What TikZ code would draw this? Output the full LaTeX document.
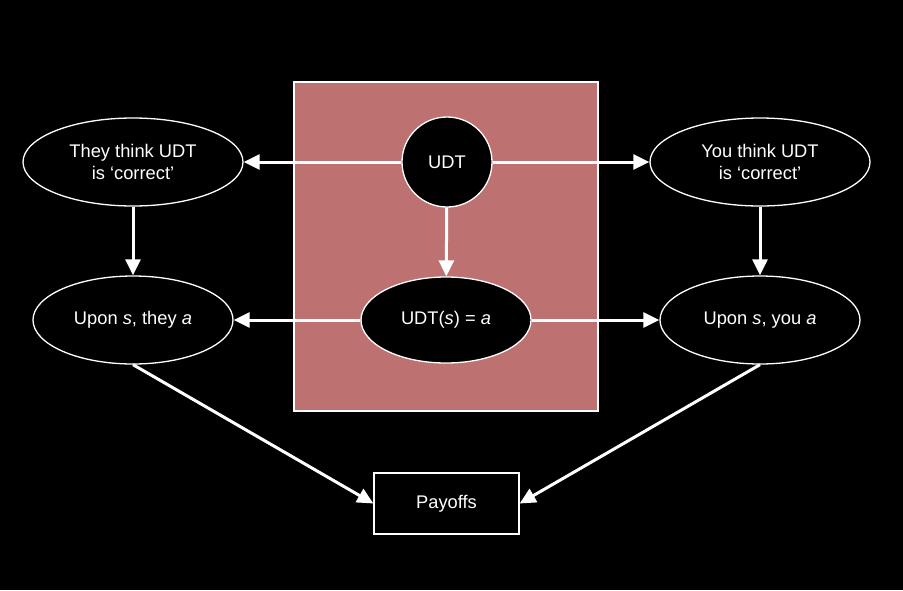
\documentclass[tikz,border=0pt]{standalone}
\usepackage{fontspec}
\setmainfont{Liberation Sans}
\usetikzlibrary{arrows.meta,shapes.geometric}
\definecolor{pinkbg}{RGB}{190,113,113}
\begin{document}
\begin{tikzpicture}[x=1pt,y=-1pt,
  every node/.style={font=\fontsize{18.3}{22}\selectfont, text=white},
  oval/.style={ellipse, draw=white, line width=1.3pt, fill=black, inner sep=0pt, align=center},
  conn/.style={draw=white, line width=3pt, -{Triangle[length=16pt,width=15pt]}}]
\fill[black] (0,0) rectangle (903,590);
\useasboundingbox (0,0) rectangle (903,590);
\node[draw=white, line width=1.3pt, fill=pinkbg, minimum width=304pt, minimum height=329pt, inner sep=0pt] (box) at (446,246.5) {};
\node[circle, draw=white, line width=1.3pt, fill=black, minimum size=90pt, inner sep=0pt] (udt) at (447,162) {UDT};
\node[oval, minimum width=170pt, minimum height=86pt] (udts) at (446,320) {UDT(\textit{s}) = \textit{a}};
\node[oval, minimum width=220pt, minimum height=88pt] (tt) at (133,162) {They think UDT\\is ‘correct’};
\node[oval, minimum width=200pt, minimum height=88pt] (tu) at (133,320) {Upon \textit{s}, they \textit{a}};
\node[oval, minimum width=220pt, minimum height=88pt] (yt) at (760,162) {You think UDT\\is ‘correct’};
\node[oval, minimum width=200pt, minimum height=88pt] (yu) at (760,320) {Upon \textit{s}, you \textit{a}};
\node[draw=white, line width=1.3pt, fill=black, minimum width=145pt, minimum height=61pt, inner sep=0pt] (pay) at (446.5,503.5) {Payoffs};
\draw[conn] (udt) -- (tt);
\draw[conn] (udt) -- (yt);
\draw[conn] (udt) -- (udts);
\draw[conn] (udts) -- (tu);
\draw[conn] (udts) -- (yu);
\draw[conn] (tt) -- (tu);
\draw[conn] (yt) -- (yu);
\draw[conn] (tu.south) -- (pay.west);
\draw[conn] (yu.south) -- (pay.east);
\end{tikzpicture}
\end{document}
